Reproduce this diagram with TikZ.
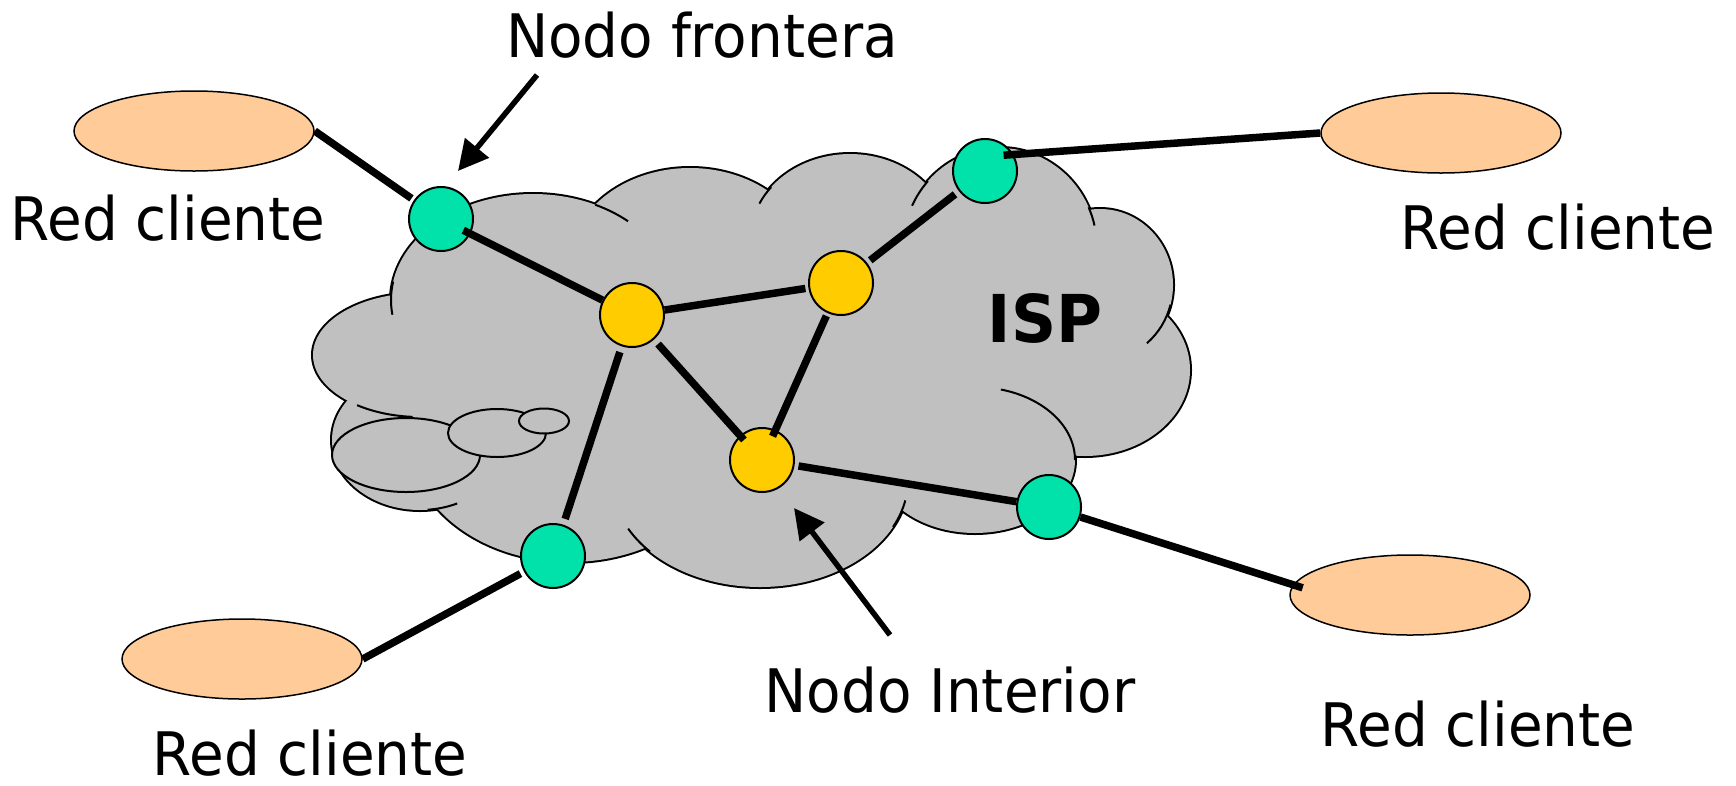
\documentclass[tikz,border=0pt]{standalone}
\usepackage{fontspec}
\setmainfont{DejaVu Sans}[FakeStretch=0.94]
\newfontfamily\ispfont{DejaVu Sans}[FakeStretch=0.95]
\usetikzlibrary{arrows.meta,shapes.geometric}
\definecolor{cloudgray}{RGB}{192,192,192}
\definecolor{edgegreen}{RGB}{0,226,170}
\definecolor{coreyellow}{RGB}{255,204,0}
\definecolor{peach}{RGB}{255,204,153}
\tikzset{
  edgenode/.style={circle,draw=black,line width=2pt,fill=edgegreen,minimum size=64pt,inner sep=0pt},
  corenode/.style={circle,draw=black,line width=2pt,fill=coreyellow,minimum size=64pt,inner sep=0pt},
  custnet/.style={ellipse,draw=black,line width=1.5pt,fill=peach,minimum width=240pt,minimum height=80pt,inner sep=0pt},
  link/.style={line width=7.5pt},
  pointer/.style={line width=5.5pt,-{Triangle[length=30pt,width=30pt]}},
  lbl/.style={inner sep=0pt,anchor=base,font=\fontsize{60}{66}\selectfont},
  cloudline/.style={line width=2pt},
}
\begin{document}
\begin{tikzpicture}[x=1pt,y=-1pt]
\useasboundingbox (0,0) rectangle (1736,785);
% cloud lobes: cx/cy/rx/ry
\def\lobes{533/300/142/106, 690/265/121/97, 850/240/100/86, 1000/248/97/100,
  1100/285/73/76, 1085/370/105/86, 975/460/100/73, 760/480/148/107,
  570/440/160/122, 420/440/88/70, 420/355/107/62}
\foreach \cx/\cy/\rx/\ry in \lobes
  \draw[line width=4pt] (\cx,\cy) ellipse [x radius=\rx, y radius=\ry];
\foreach \cx/\cy/\rx/\ry in \lobes
  \fill[cloudgray] (\cx,\cy) ellipse [x radius=\rx, y radius=\ry];
\fill[cloudgray] (770,360) ellipse [x radius=280, y radius=120];
% inner arcs
\foreach \cx/\cy/\rx/\ry/\ta/\tb in {533/300/142/106/190/172, 533/300/142/106/-64/-48,
  850/240/100/86/218/205, 1000/248/97/100/222/205, 1000/248/97/100/-24/-13,
  1100/285/73/76/15/50, 975/460/100/73/-75/0, 760/480/148/107/26/11,
  760/480/148/107/138/153, 420/440/88/70/85/65, 420/355/107/62/126/94}
  \draw[cloudline] ({\cx+\rx*cos(\ta)},{\cy+\ry*sin(\ta)}) arc[start angle=\ta, end angle=\tb, x radius=\rx, y radius=\ry];
% callout bubbles
\draw[cloudline,fill=cloudgray] (406,455) ellipse [x radius=74, y radius=37];
\draw[cloudline,fill=cloudgray] (497,433) ellipse [x radius=49, y radius=24];
\draw[cloudline,fill=cloudgray] (544,421) ellipse [x radius=25, y radius=12.5];
\node[inner sep=0pt,anchor=base,font=\ispfont\bfseries\fontsize{66}{70}\selectfont] (isp) at (1045,342) {ISP};
% customer networks
\node[custnet] (ovTL) at (194,131) {};
\node[custnet] (ovTR) at (1441,133) {};
\node[custnet] (ovBL) at (242,659) {};
\node[custnet] (ovBR) at (1410,595) {};
% routers
\node[edgenode] (G1) at (441,219) {};
\node[edgenode] (G2) at (985,171) {};
\node[edgenode] (G3) at (553,556) {};
\node[edgenode] (G4) at (1049,507) {};
\node[corenode] (Y1) at (632,315) {};
\node[corenode] (Y2) at (841,283) {};
\node[corenode] (Y3) at (762,460) {};
% links
\draw[link, shorten >=3pt] (ovTL.east) -- (G1);
\draw[link, shorten <=-8pt] (G1) -- (Y1);
\draw[link, shorten >=3pt] (Y1) -- (Y2);
\draw[link, shorten <=4pt, shorten >=5pt] (Y2) -- (G2);
\draw[link, shorten <=-10pt] (G2.30) -- (ovTR.west);
\draw[link, shorten <=6pt, shorten >=-6pt] (Y1) -- (Y3);
\draw[link, shorten <=3pt, shorten >=-7pt] (Y2) -- (Y3);
\draw[link, shorten <=6pt, shorten >=6pt] (Y1) -- (G3);
\draw[link, shorten <=4pt] (G3) -- (ovBL.east);
\draw[link, shorten <=4pt] (Y3) -- (G4);
\draw[link, shorten >=-10pt] (G4) -- (ovBR.175);
% labels
\node[lbl] (tTL) at (168,240) {Red cliente};
\node[lbl] (tTR) at (1558,249) {Red cliente};
\node[lbl] (tBL) at (310,775) {Red cliente};
\node[lbl] (tBR) at (1478,746) {Red cliente};
\node[lbl] (tFront) at (702,57) {Nodo frontera};
\node[lbl] (tInt) at (950,712) {Nodo Interior};
% pointers
\coordinate (fT) at (537,75);
\coordinate (fH) at (458,171);
\draw[pointer] (fT) -- (fH);
\coordinate (iT) at (890,635);
\coordinate (iH) at (794,508);
\draw[pointer] (iT) -- (iH);
\end{tikzpicture}
\end{document}
